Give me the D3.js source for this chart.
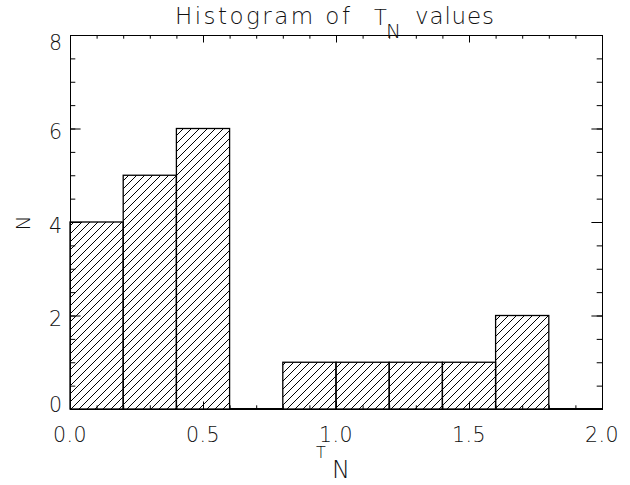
<!DOCTYPE html>
<html><head><meta charset="utf-8">
<script src="https://cdn.jsdelivr.net/npm/d3@7"></script>
<style>
html,body{margin:0;padding:0;background:#fff;}
svg text{font-family:"DejaVu Sans","Liberation Sans",sans-serif;font-weight:200;fill:#111;}
</style></head>
<body>
<script>
// Data
const binEdges = [0.0,0.2,0.4,0.6,0.8,1.0,1.2,1.4,1.6,1.8,2.0];
const counts   = [4,5,6,0,1,1,1,1,2,0];
const xTickLabels = ["0.0","0.5","1.0","1.5","2.0"];
const xMajor = [0,0.5,1.0,1.5,2.0];
const yMajor = [0,2,4,6,8];
const yTickLabels = ["0","2","4","6","8"];

const W=630,H=485;
const svg=d3.select("body").append("svg").attr("width",W).attr("height",H);
const x=d3.scaleLinear().domain([0,2]).range([70,602]);
const y=d3.scaleLinear().domain([0,8]).range([409,35]);

const defs=svg.append("defs");
defs.append("pattern").attr("id","hatch").attr("patternUnits","userSpaceOnUse")
  .attr("width",8).attr("height",8)
  .append("path").attr("d","M0,8 L8,0 M-2,2 L2,-2 M6,10 L10,6")
  .attr("stroke","#000").attr("stroke-width",1).attr("fill","none");

const bins=counts.map((c,i)=>({x0:binEdges[i],x1:binEdges[i+1],n:c}));

// bars
svg.append("g").selectAll("rect").data(bins.filter(d=>d.n>0)).join("rect")
  .attr("x",d=>x(d.x0)).attr("y",d=>y(d.n))
  .attr("width",d=>x(d.x1)-x(d.x0)).attr("height",d=>y(0)-y(d.n))
  .attr("fill","url(#hatch)").attr("stroke","#000").attr("stroke-width",1.3);

// zero-bin outline on baseline
svg.append("g").selectAll("line").data(bins.filter(d=>d.n===0)).join("line")
  .attr("x1",d=>x(d.x0)).attr("x2",d=>x(d.x1)).attr("y1",y(0)).attr("y2",y(0))
  .attr("stroke","#000").attr("stroke-width",2.2);

// axes
const xMinor=d3.range(0,2.0001,0.1);
const yMinor=d3.range(0,8.0001,0.5);
function ax(gen,tr,vals,size){
  const g=svg.append("g").attr("transform",tr)
    .call(gen.tickValues(vals).tickSize(size).tickFormat(""));
  g.selectAll("line").attr("stroke","#000").attr("stroke-width",1);
  g.select(".domain").attr("stroke","#000").attr("stroke-width",1);
  return g;
}
ax(d3.axisBottom(x),`translate(0,${y(0)})`,xMinor,-3.7);
ax(d3.axisBottom(x),`translate(0,${y(0)})`,xMajor,-7.5);
ax(d3.axisTop(x),`translate(0,${y(8)})`,xMinor,-3.7);
ax(d3.axisTop(x),`translate(0,${y(8)})`,xMajor,-7.5);
ax(d3.axisLeft(y),`translate(${x(0)},0)`,yMinor,-5.3);
ax(d3.axisLeft(y),`translate(${x(0)},0)`,yMajor,-10.6);
ax(d3.axisRight(y),`translate(${x(2)},0)`,yMinor,-5.3);
ax(d3.axisRight(y),`translate(${x(2)},0)`,yMajor,-10.6);

// tick labels
svg.append("g").selectAll("text").data(xMajor).join("text")
  .attr("x",d=>x(d)).attr("y",442).attr("text-anchor","middle")
  .attr("font-size",20.5).attr("letter-spacing",0.5).text((d,i)=>xTickLabels[i]);
svg.append("g").selectAll("text").data(yMajor).join("text")
  .attr("x",62).attr("text-anchor","end").attr("font-size",20.5)
  .attr("y",d=>{const c=Math.max(y(8)+7,Math.min(y(0)-5,y(d)+3));return c+7.5;})
  .text((d,i)=>yTickLabels[i]);

// title
const tg=svg.append("g");
tg.append("text").attr("x",175).attr("y",24).attr("font-size",23)
  .attr("textLength",175).attr("lengthAdjust","spacing").text("Histogram of");
tg.append("text").attr("x",374).attr("y",25).attr("font-size",21).text("T");
tg.append("text").attr("x",386).attr("y",38).attr("font-size",20).text("N");
tg.append("text").attr("x",415).attr("y",24).attr("font-size",23)
  .attr("textLength",79).attr("lengthAdjust","spacing").text("values");

// x label
svg.append("text").attr("x",316).attr("y",458).attr("font-size",16).text("T");
svg.append("text").attr("x",332).attr("y",478).attr("font-size",24).text("N");

// y label
svg.append("text").attr("transform","translate(30,223) rotate(-90)")
  .attr("text-anchor","middle").attr("font-size",20).text("N");
</script>
</body></html>
